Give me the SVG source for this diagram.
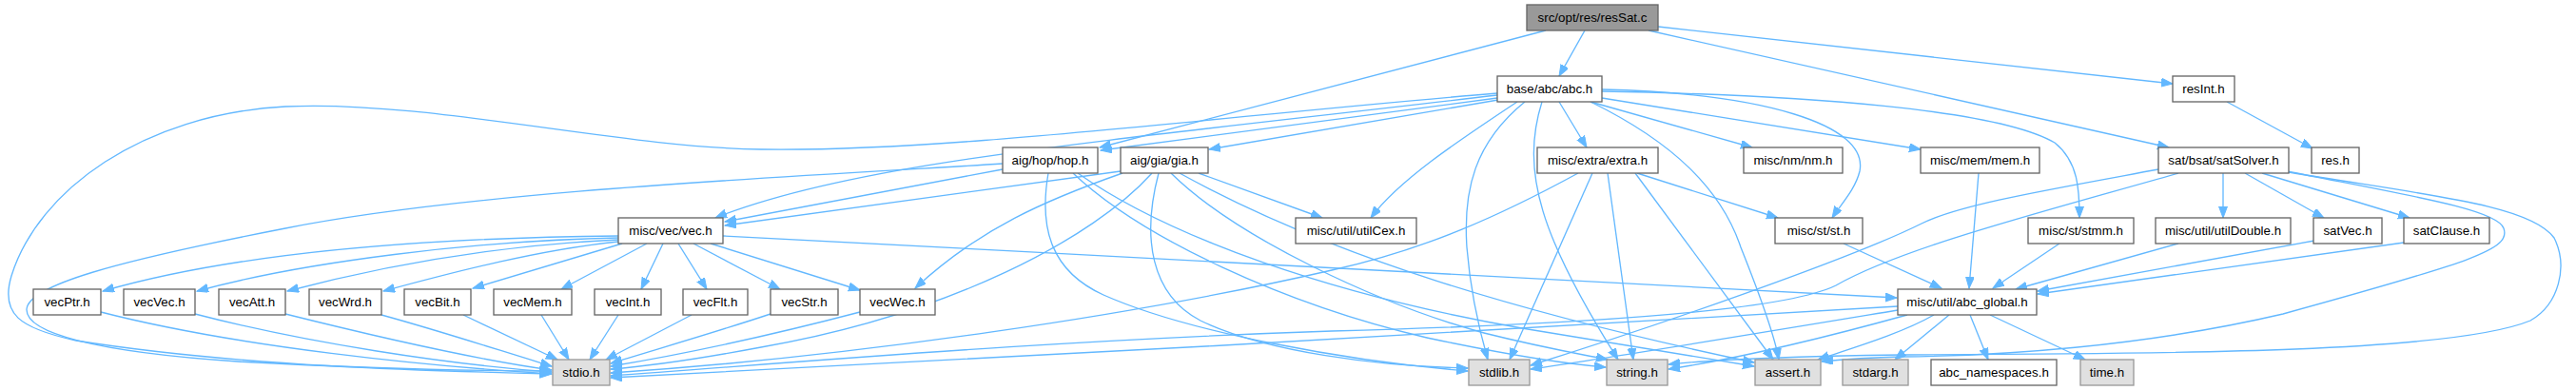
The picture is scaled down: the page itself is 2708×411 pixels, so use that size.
<svg xmlns="http://www.w3.org/2000/svg" width="2708" height="411" viewBox="0 0 2708 411">
<style>
rect{stroke-width:1.33}
.n rect{fill:#ffffff;stroke:#666666}
.g rect{fill:#e0e0e0;stroke:#999999}
.r rect{fill:#999999;stroke:#666666}
text{font-family:"Liberation Sans",Arial,Helvetica,sans-serif;font-size:13.33px;text-anchor:middle;fill:#000000}
#edges path{fill:none;stroke:#63b8ff;stroke-width:1.33;marker-end:url(#arr)}
</style>
<defs>
<marker id="arr" markerUnits="userSpaceOnUse" markerWidth="13" markerHeight="10" refX="12" refY="4.5" orient="auto">
<path d="M0,0 L12,4.5 L0,9 z" fill="#63b8ff" stroke="#63b8ff" stroke-width="1"/>
</marker>
</defs>
<rect x="0" y="0" width="2708" height="411" fill="#ffffff"/>
<g id="edges">
<path d="M1666,32 L1639,80"/>
<path d="M1625,32 L1156,155"/>
<path d="M1733,32 L2280,155"/>
<path d="M1743,28 L2284,88"/>
<path d="M2341,107 L2431,156"/>
<path d="M1574,103 L1157,158"/>
<path d="M1575,105 L1271,157"/>
<path d="M1574,100 C1150,150 900,170 752,229"/>
<path d="M1574,98 C1300,120 1000,160 800,157 C650,155 450,105 300,112 C150,120 40,200 12,290 C0,330 20,345 80,358 C250,385 450,390 579,393"/>
<path d="M1595,107 C1530,150 1470,190 1441,229"/>
<path d="M1603,107 C1550,150 1538,200 1542,260 C1546,310 1556,350 1564,378"/>
<path d="M1621,107 C1598,180 1620,250 1701,378"/>
<path d="M1639,107 L1668,155"/>
<path d="M1672,107 C1760,150 1810,200 1830,260 C1850,310 1865,350 1870,378"/>
<path d="M1672,107 L1842,155"/>
<path d="M1684,103 L2019,157"/>
<path d="M1684,94 C1850,98 1965,130 1955,180 C1950,200 1935,215 1926,229"/>
<path d="M1684,96 C1900,100 2100,115 2160,150 C2185,170 2186,200 2186,229"/>
<path d="M1054,178 L762,233"/>
<path d="M1054,172 C850,185 500,200 300,240 C120,275 30,300 28,325 C27,350 100,370 250,380 C400,388 500,390 579,390"/>
<path d="M1102,182 C1092,240 1105,285 1160,310 C1250,350 1420,380 1543,390"/>
<path d="M1128,182 C1200,250 1350,320 1500,355 C1580,372 1640,382 1688,386"/>
<path d="M1133,182 C1230,250 1400,310 1600,345 C1700,362 1780,375 1844,385"/>
<path d="M1178,180 L762,237"/>
<path d="M1180,182 C1100,210 1030,240 962,303"/>
<path d="M1211,182 C1150,250 1000,330 800,365 C720,380 680,385 642,388"/>
<path d="M1218,182 C1200,250 1210,310 1262,337 C1330,370 1450,385 1543,387"/>
<path d="M1231,182 C1300,250 1450,320 1560,350 C1620,365 1660,372 1690,378"/>
<path d="M1240,182 C1400,270 1600,330 1844,381"/>
<path d="M1260,182 L1390,229"/>
<path d="M1659,182 C1580,225 1500,262 1400,284 C1200,330 900,375 642,392"/>
<path d="M1674,182 L1587,378"/>
<path d="M1690,182 L1717,378"/>
<path d="M1719,182 L1864,378"/>
<path d="M1721,182 L1869,229"/>
<path d="M2080,182 L2070,303"/>
<path d="M2269,178 C2150,200 2060,215 2020,235 C1950,270 1750,340 1609,384"/>
<path d="M2290,182 C2150,222 2000,260 1930,300 C1880,325 1700,340 1400,348 C1100,358 850,380 642,395"/>
<path d="M2337,182 L2337,229"/>
<path d="M2360,182 L2443,229"/>
<path d="M2378,182 L2533,229"/>
<path d="M2404,180 C2530,205 2625,220 2632,240 C2640,262 2600,275 2400,330 C2250,365 2100,374 2000,375 C1960,376 1935,378 1915,380"/>
<path d="M2406,181 C2550,205 2660,215 2685,250 C2700,280 2690,320 2660,337 C2580,370 2300,372 2000,373 C1900,374 1800,378 1754,383"/>
<path d="M1995,322 C1700,340 1000,380 642,397"/>
<path d="M1995,326 C1850,350 1700,375 1609,388"/>
<path d="M2005,331 C1900,360 1820,378 1754,388"/>
<path d="M2033,331 C2000,350 1950,365 1911,378"/>
<path d="M2049,331 L1992,378"/>
<path d="M2071,331 L2090,378"/>
<path d="M2092,331 L2192,378"/>
<path d="M1938,256 L2041,303"/>
<path d="M2165,256 L2095,303"/>
<path d="M2290,256 L2119,304"/>
<path d="M2433,253 L2142,306"/>
<path d="M2527,255 L2142,309"/>
<path d="M650,248 C450,250 250,265 108,306"/>
<path d="M650,250 C500,253 320,275 207,306"/>
<path d="M650,252 C520,258 400,280 302,306"/>
<path d="M650,254 C570,262 480,285 403,306"/>
<path d="M654,256 L497,303"/>
<path d="M680,256 L590,304"/>
<path d="M697,256 L674,304"/>
<path d="M713,256 L743,304"/>
<path d="M729,256 L820,304"/>
<path d="M747,256 L904,305"/>
<path d="M760,248 C1200,270 1700,300 1994,313"/>
<path d="M106,328 C250,365 450,385 580,393"/>
<path d="M205,330 C320,360 470,383 580,391"/>
<path d="M300,330 C400,355 500,378 580,389"/>
<path d="M401,331 C470,350 530,370 580,385"/>
<path d="M487,331 L586,378"/>
<path d="M569,331 L598,378"/>
<path d="M650,331 L620,378"/>
<path d="M727,331 L637,378"/>
<path d="M810,330 C750,350 680,370 642,382"/>
<path d="M904,328 C820,350 720,372 642,385"/>
</g>
<g id="n_resSat" class="r"><rect x="1605" y="5" width="138" height="27"/><text x="1674" y="23">src/opt/res/resSat.c</text></g>
<g id="n_abc" class="n"><rect x="1574" y="80" width="110" height="27"/><text x="1629" y="98">base/abc/abc.h</text></g>
<g id="n_resInt" class="n"><rect x="2284" y="80" width="65" height="27"/><text x="2316.5" y="98">resInt.h</text></g>
<g id="n_hop" class="n"><rect x="1054" y="155" width="100" height="27"/><text x="1104" y="173">aig/hop/hop.h</text></g>
<g id="n_gia" class="n"><rect x="1178" y="155" width="92" height="27"/><text x="1224" y="173">aig/gia/gia.h</text></g>
<g id="n_extra" class="n"><rect x="1616" y="155" width="127" height="27"/><text x="1679.5" y="173">misc/extra/extra.h</text></g>
<g id="n_nm" class="n"><rect x="1833" y="155" width="104" height="27"/><text x="1885" y="173">misc/nm/nm.h</text></g>
<g id="n_mem" class="n"><rect x="2019" y="155" width="125" height="27"/><text x="2081.5" y="173">misc/mem/mem.h</text></g>
<g id="n_satSolver" class="n"><rect x="2269" y="155" width="137" height="27"/><text x="2337.5" y="173">sat/bsat/satSolver.h</text></g>
<g id="n_res" class="n"><rect x="2430" y="155" width="50" height="27"/><text x="2455" y="173">res.h</text></g>
<g id="n_vec" class="n"><rect x="650" y="229" width="110" height="27"/><text x="705" y="247">misc/vec/vec.h</text></g>
<g id="n_utilCex" class="n"><rect x="1362" y="229" width="127" height="27"/><text x="1425.5" y="247">misc/util/utilCex.h</text></g>
<g id="n_st" class="n"><rect x="1866" y="229" width="92" height="27"/><text x="1912" y="247">misc/st/st.h</text></g>
<g id="n_stmm" class="n"><rect x="2132" y="229" width="111" height="27"/><text x="2187.5" y="247">misc/st/stmm.h</text></g>
<g id="n_utilDouble" class="n"><rect x="2266" y="229" width="142" height="27"/><text x="2337" y="247">misc/util/utilDouble.h</text></g>
<g id="n_satVec" class="n"><rect x="2432" y="229" width="72" height="27"/><text x="2468" y="247">satVec.h</text></g>
<g id="n_satClause" class="n"><rect x="2527" y="229" width="90" height="27"/><text x="2572" y="247">satClause.h</text></g>
<g id="n_vecPtr" class="n"><rect x="35" y="304" width="71" height="27"/><text x="70.5" y="322">vecPtr.h</text></g>
<g id="n_vecVec" class="n"><rect x="130" y="304" width="75" height="27"/><text x="167.5" y="322">vecVec.h</text></g>
<g id="n_vecAtt" class="n"><rect x="230" y="304" width="70" height="27"/><text x="265" y="322">vecAtt.h</text></g>
<g id="n_vecWrd" class="n"><rect x="325" y="304" width="76" height="27"/><text x="363" y="322">vecWrd.h</text></g>
<g id="n_vecBit" class="n"><rect x="425" y="304" width="70" height="27"/><text x="460" y="322">vecBit.h</text></g>
<g id="n_vecMem" class="n"><rect x="519" y="304" width="82" height="27"/><text x="560" y="322">vecMem.h</text></g>
<g id="n_vecInt" class="n"><rect x="625" y="304" width="70" height="27"/><text x="660" y="322">vecInt.h</text></g>
<g id="n_vecFlt" class="n"><rect x="718" y="304" width="68" height="27"/><text x="752" y="322">vecFlt.h</text></g>
<g id="n_vecStr" class="n"><rect x="810" y="304" width="71" height="27"/><text x="845.5" y="322">vecStr.h</text></g>
<g id="n_vecWec" class="n"><rect x="904" y="304" width="79" height="27"/><text x="943.5" y="322">vecWec.h</text></g>
<g id="n_abc_global" class="n"><rect x="1995" y="304" width="146" height="27"/><text x="2068" y="322">misc/util/abc_global.h</text></g>
<g id="n_stdio" class="g"><rect x="581" y="378" width="60" height="27"/><text x="611" y="396">stdio.h</text></g>
<g id="n_stdlib" class="g"><rect x="1544" y="378" width="64" height="27"/><text x="1576" y="396">stdlib.h</text></g>
<g id="n_string" class="g"><rect x="1689" y="378" width="64" height="27"/><text x="1721" y="396">string.h</text></g>
<g id="n_assert" class="g"><rect x="1845" y="378" width="69" height="27"/><text x="1879.5" y="396">assert.h</text></g>
<g id="n_stdarg" class="g"><rect x="1937" y="378" width="69" height="27"/><text x="1971.5" y="396">stdarg.h</text></g>
<g id="n_abc_namespaces" class="n"><rect x="2030" y="378" width="132" height="27"/><text x="2096" y="396">abc_namespaces.h</text></g>
<g id="n_time" class="g"><rect x="2187" y="378" width="56" height="27"/><text x="2215" y="396">time.h</text></g>
</svg>
